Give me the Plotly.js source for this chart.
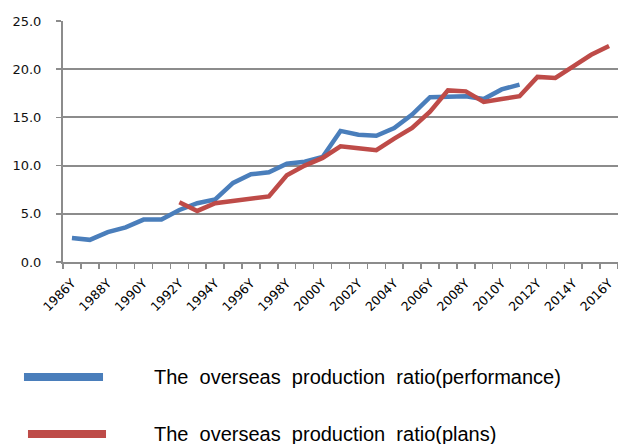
<!DOCTYPE html>
<html>
<head>
<meta charset="utf-8">
<script src="https://cdn.plot.ly/plotly-3.0.1.min.js"></script>
<style>html,body{margin:0;padding:0;background:#fff;}#chart{width:618px;height:444px;}</style>
</head>
<body>
<div id="chart"></div>
<script>
var years = [1986,1987,1988,1989,1990,1991,1992,1993,1994,1995,1996,1997,1998,1999,2000,2001,2002,2003,2004,2005,2006,2007,2008,2009,2010,2011,2012,2013,2014,2015,2016];
var performance = [2.5,2.3,3.1,3.6,4.4,4.4,5.4,6.1,6.5,8.2,9.1,9.3,10.2,10.4,10.9,13.6,13.2,13.1,13.9,15.3,17.1,17.2,17.2,16.9,17.9,18.4,null,null,null,null,null];
var plans = [null,null,null,null,null,null,6.2,5.3,6.1,6.3,6.5,6.8,9.0,10.0,10.8,12.0,11.8,11.6,12.8,13.9,15.6,17.8,17.7,16.6,16.9,17.2,19.2,19.1,20.3,21.5,22.4];
var tickYears = [1986,1988,1990,1992,1994,1996,1998,2000,2002,2004,2006,2008,2010,2012,2014,2016];
var tickLabels = ["1986Y","1988Y","1990Y","1992Y","1994Y","1996Y","1998Y","2000Y","2002Y","2004Y","2006Y","2008Y","2010Y","2012Y","2014Y","2016Y"];
var seriesNames = ["The\u00A0\u00A0overseas\u00A0\u00A0production\u00A0\u00A0ratio(performance)","The\u00A0\u00A0overseas\u00A0\u00A0production\u00A0\u00A0ratio(plans)"];

var blue = '#4A7EBB', red = '#BE4B48', grid = '#8c8c8c';

var traces = [
  {x: years, y: performance, type: 'scatter', mode: 'lines', name: seriesNames[0], line: {color: blue, width: 4.5}, connectgaps: false, hoverinfo: 'x+y'},
  {x: years, y: plans, type: 'scatter', mode: 'lines', name: seriesNames[1], line: {color: red, width: 4.5}, connectgaps: false, hoverinfo: 'x+y'}
];

var layout = {
  width: 618, height: 444,
  margin: {l: 63, r: 0, t: 21, b: 182, pad: 0},
  paper_bgcolor: '#fff', plot_bgcolor: '#fff',
  showlegend: false,
  xaxis: {
    range: [1985.5, 2016.5],
    tickmode: 'array', tickvals: tickYears, ticktext: tickLabels,
    tickangle: -45, ticks: '',
    ticklabelstandoff: 7,
    showgrid: false, zeroline: false,
    showline: true, linecolor: grid, linewidth: 2,
    tickfont: {family: 'DejaVu Sans, Verdana, sans-serif', size: 12.5, color: '#000'},
    minor: {tickmode: 'linear', tick0: 1985.5, dtick: 1, ticks: 'outside', ticklen: 5, tickcolor: grid, tickwidth: 1.5, showgrid: false}
  },
  yaxis: {
    range: [0, 25], dtick: 5, tick0: 0, tickformat: '.1f',
    showgrid: true, gridcolor: grid, gridwidth: 2,
    zeroline: false,
    showline: true, linecolor: grid, linewidth: 2,
    ticks: 'outside', ticklen: 5, tickcolor: grid, tickwidth: 1.5,
    ticklabelstandoff: 12,
    tickfont: {family: 'DejaVu Sans, Verdana, sans-serif', size: 13, color: '#111'}
  },
  shapes: [
    {type: 'line', xref: 'paper', yref: 'paper', x0: -0.0703, x1: 0.0721, y0: -0.4772, y1: -0.4772, line: {color: blue, width: 8}},
    {type: 'line', xref: 'paper', yref: 'paper', x0: -0.0631, x1: 0.0775, y0: -0.7137, y1: -0.7137, line: {color: red, width: 8}}
  ],
  annotations: [
    {xref: 'paper', yref: 'paper', x: 0.1604, y: -0.4772, xanchor: 'left', yanchor: 'middle', showarrow: false, text: seriesNames[0], font: {family: 'Liberation Sans, Arial, sans-serif', size: 20, color: '#000'}},
    {xref: 'paper', yref: 'paper', x: 0.1604, y: -0.7137, xanchor: 'left', yanchor: 'middle', showarrow: false, text: seriesNames[1], font: {family: 'Liberation Sans, Arial, sans-serif', size: 20, color: '#000'}}
  ]
};

Plotly.newPlot('chart', traces, layout, {displayModeBar: false, staticPlot: true});
</script>
</body>
</html>
